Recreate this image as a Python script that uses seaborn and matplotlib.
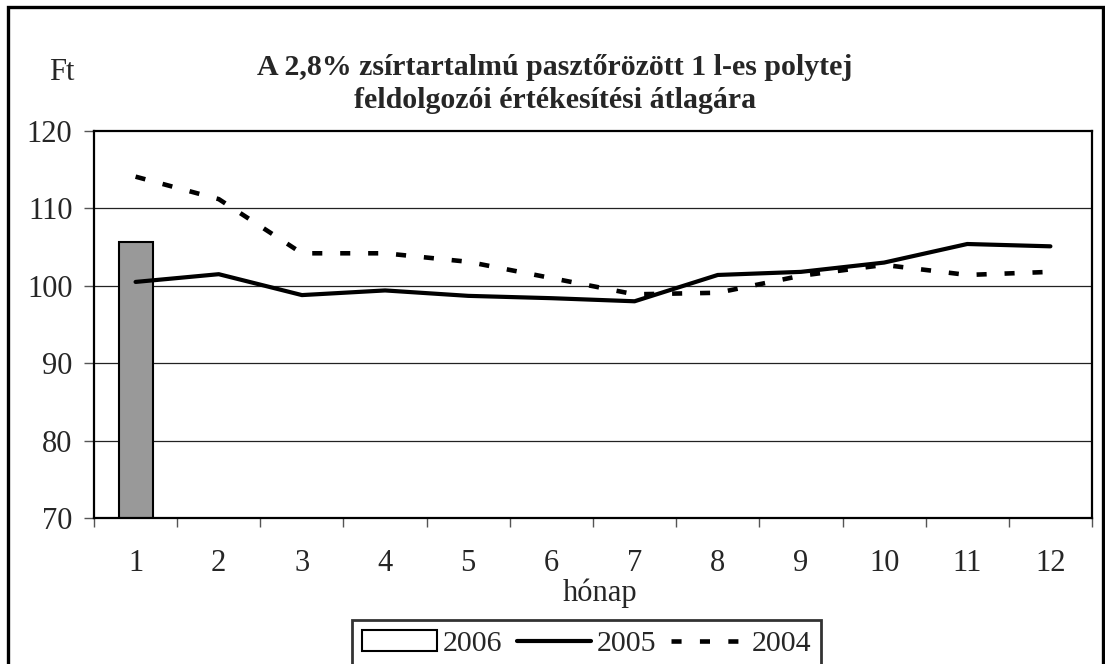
import numpy as np
import pandas as pd
import matplotlib
matplotlib.use("Agg")
import matplotlib.pyplot as plt
import seaborn as sns
from matplotlib.patches import Patch, Rectangle
from matplotlib.lines import Line2D

# adatok (leolvasva)
honapok = [str(m) for m in range(1, 13)]
ar_2006 = [105.7] + [np.nan] * 11
ar_2005 = [100.5, 101.5, 98.8, 99.4, 98.7, 98.4, 98.0, 101.4, 101.8, 103.0, 105.4, 105.1]
ar_2004 = [114.1, 111.2, 104.2, 104.2, 103.1, 101.0, 98.9, 99.1, 101.3, 102.7, 101.4, 101.8]
y_ticks = [70, 80, 90, 100, 110, 120]

sns.set_style("white")
plt.rcParams["font.family"] = ["Liberation Serif", "DejaVu Serif"]

df = pd.DataFrame({"honap": honapok, "2006": ar_2006, "2005": ar_2005, "2004": ar_2004})
df["pos"] = np.arange(len(honapok))

W, H = 1105, 664
fig = plt.figure(figsize=(W / 100, H / 100), dpi=100)
ax = fig.add_axes([94 / W, 1 - 518 / H, (1092 - 94) / W, (518 - 131) / H])

# 2006 oszlop
sns.barplot(data=df, x="honap", y="2006", order=honapok, color="#999999",
            saturation=1, width=0.41, edgecolor="black", linewidth=1.5, ax=ax, zorder=2)

# 2005 és 2004 vonalak
dash = (0, (2.2, 3.9))
sns.lineplot(data=df, x="pos", y="2005", color="black", linewidth=3, ax=ax, zorder=3)
sns.lineplot(data=df, x="pos", y="2004", color="black", linewidth=3.3, ax=ax, zorder=3,
             linestyle=dash)

ax.set_xlim(-0.5, 11.5)
ax.set_ylim(70, 120)
ax.set_yticks(y_ticks)
ax.set_xticks(np.arange(len(honapok)))
ax.set_xticklabels(honapok)
ax.set_xticks(np.arange(len(honapok) + 1) - 0.5, minor=True)
ax.set_xlabel("")
ax.set_ylabel("")

for yv in y_ticks[1:-1]:
    ax.axhline(yv, color="#222222", linewidth=0.9, zorder=1)

for sp in ax.spines.values():
    sp.set_visible(True)
    sp.set_color("black")
    sp.set_linewidth(1.6)

ax.tick_params(axis="y", which="major", direction="out", length=7.5, width=1,
               color="#555555", pad=8, labelsize=22, left=True)
ax.tick_params(axis="x", which="major", length=0, pad=22, labelsize=22)
ax.tick_params(axis="x", which="minor", direction="out", length=6.5, width=1,
               color="#555555", bottom=True)

# címek
fig.text(555 / W, 1 - 84 / H,
         "A 2,8% zsírtartalmú pasztőrözött 1 l-es polytej\nfeldolgozói értékesítési átlagára",
         ha="center", va="center", fontsize=21.5, fontweight="bold", linespacing=1.25)
fig.text(62 / W, 1 - 73 / H, "Ft", ha="center", va="center", fontsize=22)
fig.text(600 / W, 1 - 593 / H, "hónap", ha="center", va="center", fontsize=22)

# jelmagyarázat
handles = [
    Patch(facecolor="white", edgecolor="black", linewidth=1.5),
    Line2D([], [], color="black", linewidth=3),
    Line2D([], [], color="black", linewidth=3.3, linestyle=(0, (2.2, 4.0))),
]
leg = fig.legend(handles, ["2006", "2005", "2004"], loc="upper left",
                 bbox_to_anchor=(352 / W, 1 - 620 / H), ncol=3, frameon=True,
                 fancybox=False, fontsize=21.5, handlelength=2.5, handletextpad=0.2,
                 columnspacing=0.47, borderpad=0.35, borderaxespad=0)
leg.get_frame().set_edgecolor("black")
leg.get_frame().set_linewidth(2)

# külső keret
fig.patches.append(Rectangle((8 / W, -0.05), (1103 - 8) / W, 1.05 - 7 / H,
                             transform=fig.transFigure, fill=False,
                             edgecolor="black", linewidth=2.4))

fig.savefig("out.png", dpi=100)
